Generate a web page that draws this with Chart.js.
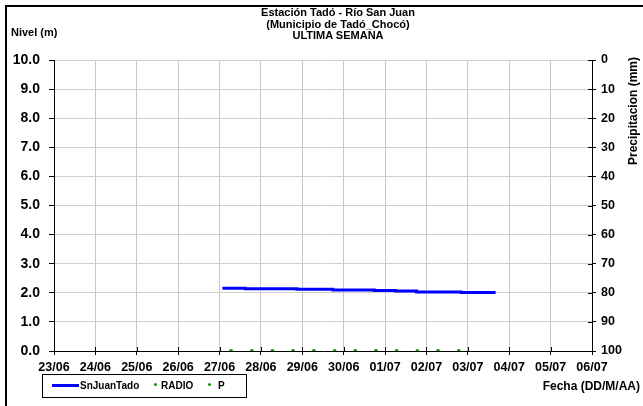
<!DOCTYPE html>
<html>
<head>
<meta charset="utf-8">
<script src="https://cdn.jsdelivr.net/npm/chart.js@4"></script>
<style>
  html, body { margin:0; padding:0; background:#fff; }
  #wrap { position:relative; width:643px; height:406px; overflow:hidden; font-family:"Liberation Sans", Arial, sans-serif; font-weight:bold; color:#000; }
  canvas { position:absolute; left:0; top:0; }
  .frame { position:absolute; left:5px; top:5px; width:700px; height:500px; border-left:2px solid #000; border-top:2px solid #000; }
  .t { position:absolute; white-space:nowrap; font-size:11px; line-height:11px; }
  #title { left:238px; top:7px; width:200px; text-align:center; line-height:11.5px; }
  #ylab { left:11px; top:27px; }
  #y2lab { left:633px; top:111px; transform:translate(-50%,-50%) rotate(-90deg); transform-origin:center; position:absolute; font-size:12px; }
  #xlab { right:3px; top:380px; font-size:12px; line-height:12px; }
  #legend { position:absolute; left:42px; top:374px; width:203px; height:22px; border:1px solid #000; font-size:10px; }
  .li { position:absolute; top:6px; }
</style>
</head>
<body>
<div id="wrap">
  <canvas id="c" width="643" height="406"></canvas>
  <div class="frame"></div>
  <div id="title" class="t">Estación Tadó - Río San Juan<br>(Municipio de Tadó_Chocó)<br>ULTIMA SEMANA</div>
  <div id="ylab" class="t">Nivel (m)</div>
  <div id="y2lab" class="t">Precipitacion (mm)</div>
  <div id="xlab" class="t">Fecha (DD/M/AA)</div>
  <div id="legend"></div>
</div>
<script>
// ---- data ----
// x values are days since 23/06 00:00
const xTickLabels = ["23/06","24/06","25/06","26/06","27/06","28/06","29/06","30/06","01/07","02/07","03/07","04/07","05/07","06/07"];
const levelTimes  = [4.07, 4.62, 5.87, 6.74, 7.74, 8.25, 8.76, 9.84, 10.67];
const levelValues = [2.16, 2.14, 2.12, 2.10, 2.08, 2.06, 2.03, 2.01, 2.01];
const radioTimes  = [4.28, 4.78, 5.28, 5.78, 6.28, 6.78, 7.28, 7.78, 8.28, 8.78, 9.28, 9.78];
const radioValues = [0, 0, 0, 0, 0, 0, 0, 0, 0, 0, 0, 0];
const pTimes      = [4.28, 4.78, 5.28, 5.78, 6.28, 6.78, 7.28, 7.78, 8.28, 8.78, 9.28, 9.78];
const pValues     = [0, 0, 0, 0, 0, 0, 0, 0, 0, 0, 0, 0];
const levelTicks  = [0,1,2,3,4,5,6,7,8,9,10];
const precipTicks = [0,10,20,30,40,50,60,70,80,90,100];

const zip = (xs, ys) => xs.map((x, i) => ({x, y: ys[i]}));

const innerTicks = {
  id: 'innerTicks',
  afterDatasetsDraw(chart) {
    const {ctx, chartArea: a, scales} = chart;
    ctx.save();
    ctx.strokeStyle = '#000';
    ctx.lineWidth = 1;
    ctx.beginPath();
    scales.x.ticks.forEach(t => {
      const px = Math.round(scales.x.getPixelForValue(t.value)) + 0.5;
      ctx.moveTo(px, a.bottom); ctx.lineTo(px, a.bottom - 4);
    });
    scales.y2.ticks.forEach(t => {
      const py = Math.round(scales.y2.getPixelForValue(t.value)) + 0.5;
      ctx.moveTo(a.right, py); ctx.lineTo(a.right - 4, py);
    });
    ctx.stroke();
    ctx.restore();
  }
};

const chart = new Chart(document.getElementById('c'), {
  type: 'line',
  data: {
    datasets: [
      { label: 'SnJuanTado', data: zip(levelTimes, levelValues), yAxisID: 'y', borderColor: '#0000ff', backgroundColor: '#0000ff', borderWidth: 3, pointRadius: 0, stepped: true, fill: false, order: 1 },
      { label: 'RADIO', data: zip(radioTimes, radioValues), yAxisID: 'y', showLine: false, pointRadius: 1.8, pointBorderWidth: 0, pointBackgroundColor: '#009a00', borderColor: '#009a00', order: 2 },
      { label: 'P', data: zip(pTimes, pValues), yAxisID: 'y', showLine: false, pointRadius: 1.8, pointBorderWidth: 0, pointBackgroundColor: '#009a00', borderColor: '#009a00', order: 3 }
    ]
  },
  options: {
    responsive: false,
    devicePixelRatio: 1,
    animation: false,
    layout: { padding: { top: 60, left: 0, right: 0, bottom: 0 } },
    plugins: { legend: { display: false }, tooltip: { enabled: false }, title: { display: false } },
    scales: {
      x: {
        type: 'linear', min: 0, max: 13,
        afterBuildTicks: s => { s.ticks = xTickLabels.map((_, i) => ({value: i})); },
        afterFit: s => { s.height = 55; },
        ticks: { callback: (v) => xTickLabels[v] ?? '', color: '#000', font: { family: 'Liberation Sans', weight: 'bold', size: 12.5 }, padding: 5, maxRotation: 0, autoSkip: false },
        grid: { color: '#c8c8c8', lineWidth: 1, tickLength: 4, tickColor: '#000' },
        border: { color: '#000', width: 1 }
      },
      y: {
        position: 'left', min: 0, max: 10,
        afterBuildTicks: s => { s.ticks = levelTicks.map(v => ({value: v})); },
        afterFit: s => { s.width = 54; },
        ticks: { callback: v => Number(v).toFixed(1), color: '#000', font: { family: 'Liberation Sans', weight: 'bold', size: 14 }, padding: 9 },
        grid: { color: '#cfcfcf', lineWidth: 1, tickLength: 5, tickColor: '#000' },
        border: { color: '#000', width: 1 }
      },
      y2: {
        position: 'right', min: 0, max: 100, reverse: true,
        afterBuildTicks: s => { s.ticks = precipTicks.map(v => ({value: v})); },
        afterFit: s => { s.width = 51; },
        ticks: { color: '#000', font: { family: 'Liberation Sans', weight: 'bold', size: 12.5 }, padding: 5 },
        grid: { drawOnChartArea: false, tickLength: 4, tickColor: '#000' },
        border: { color: '#000', width: 1 }
      }
    }
  },
  plugins: [innerTicks]
});

// legend built from datasets
const lg = document.getElementById('legend');
const pos = [{sx:9, tx:37}, {sx:112, tx:118}, {sx:166, tx:175}];
chart.data.datasets.forEach((ds, i) => {
  const p = pos[i];
  const sym = document.createElement('div');
  sym.style.position = 'absolute';
  if (i === 0) {
    sym.style.left = p.sx + 'px'; sym.style.top = '9px'; sym.style.width = '27px'; sym.style.height = '3px'; sym.style.background = ds.borderColor;
  } else {
    sym.style.left = (p.sx - 1) + 'px'; sym.style.top = '8px'; sym.style.width = '3px'; sym.style.height = '3px'; sym.style.borderRadius = '50%'; sym.style.background = ds.pointBackgroundColor;
  }
  lg.appendChild(sym);
  const tx = document.createElement('div');
  tx.className = 'li';
  tx.style.left = p.tx + 'px';
  tx.style.top = '5px';
  tx.textContent = ds.label;
  lg.appendChild(tx);
});
</script>
</body>
</html>
